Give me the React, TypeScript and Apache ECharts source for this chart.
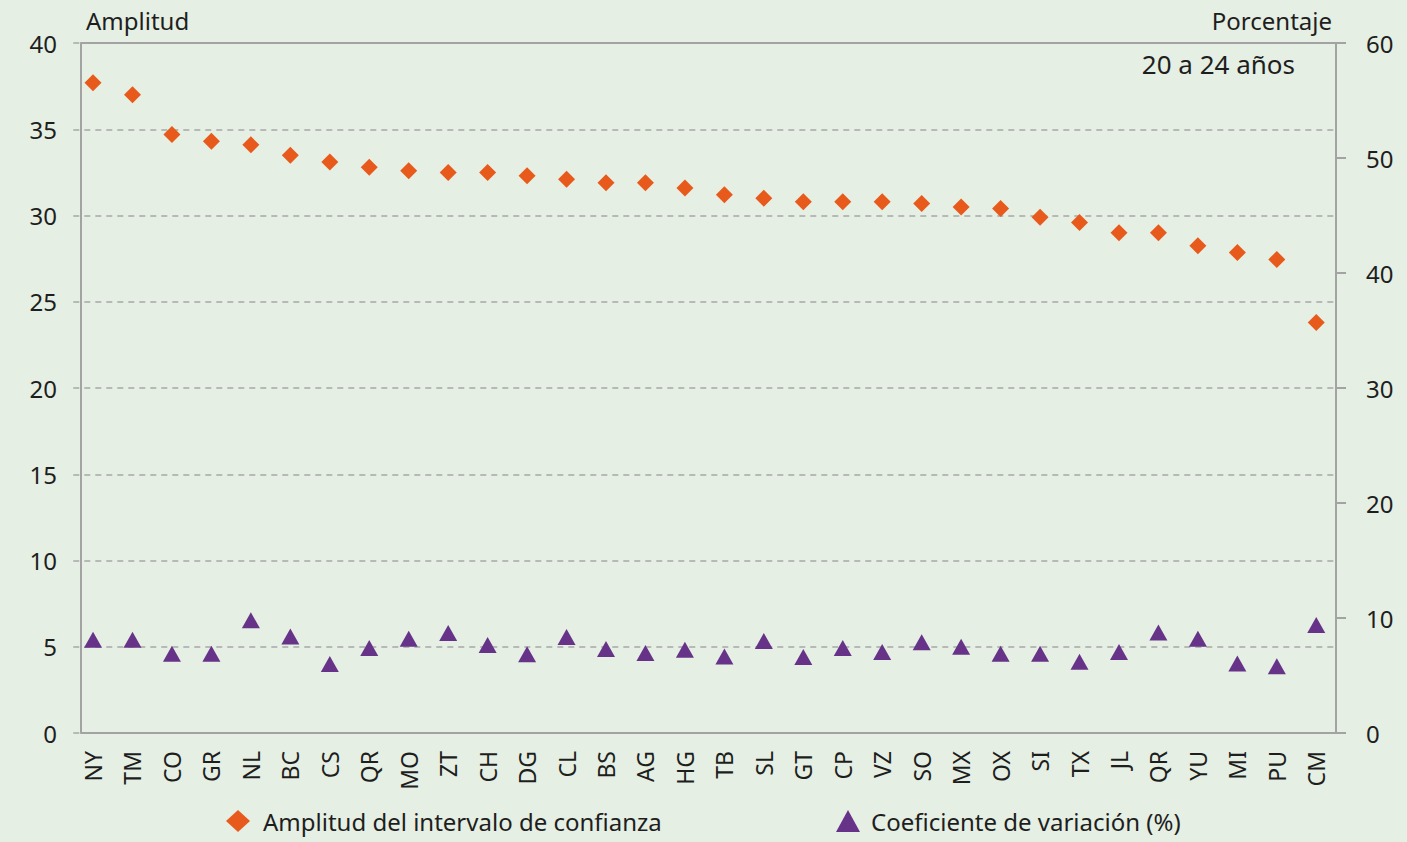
import React, { useEffect, useRef } from "react";
import * as echarts from "echarts";

const categories = ["NY","TM","CO","GR","NL","BC","CS","QR","MO","ZT","CH","DG","CL","BS","AG","HG","TB","SL","GT","CP","VZ","SO","MX","OX","SI","TX","JL","QR","YU","MI","PU","CM"];
const amplitud = [37.7,37.0,34.7,34.3,34.1,33.5,33.1,32.8,32.6,32.5,32.5,32.3,32.1,31.9,31.9,31.6,31.2,31.0,30.8,30.8,30.8,30.7,30.5,30.4,29.9,29.6,29.0,29.0,28.25,27.85,27.45,23.8];
const coefVar = [8.1,8.1,6.9,6.9,9.8,8.4,6.0,7.4,8.2,8.7,7.65,6.85,8.35,7.3,6.95,7.25,6.65,8.0,6.6,7.4,7.05,7.9,7.5,6.9,6.9,6.2,7.05,8.75,8.2,6.05,5.8,9.4];
const leftTicks = { min: 0, max: 40, interval: 5 };
const rightTicks = { min: 0, max: 60, interval: 10 };

const FONT = "'Noto Sans', 'Open Sans', sans-serif";
const TEXT = "#1e1e1e";
const AXIS = "#a3a3a3";
const ORANGE = "#e85a1c";
const PURPLE = "#663389";

export default function App() {
  const ref = useRef<HTMLDivElement>(null);
  useEffect(() => {
    document.body.style.margin = "0";
    const chart = echarts.init(ref.current!, null, { renderer: "svg" });
    chart.setOption({
      animation: false,
      backgroundColor: "#e5efe3",
      textStyle: { fontFamily: FONT },
      grid: { left: 73.3, right: 71, top: 43, bottom: 109, containLabel: false },
      xAxis: {
        type: "category",
        data: categories,
        boundaryGap: true,
        axisLine: { show: false },
        axisTick: { show: false },
        axisLabel: { rotate: 90, margin: 18, color: TEXT, fontSize: 23, fontFamily: FONT, interval: 0 },
      },
      yAxis: [
        {
          type: "value",
          position: "left",
          offset: -7.7,
          ...leftTicks,
          axisLine: { show: true, lineStyle: { color: AXIS, width: 2 } },
          axisTick: { show: false },
          axisLabel: { margin: 24, color: TEXT, fontSize: 24, fontFamily: FONT },
          splitLine: { show: true, lineStyle: { color: "#a8a8a8", width: 1.5, type: [6, 5] } },
        },
        {
          type: "value",
          position: "right",
          ...rightTicks,
          axisLine: { show: true, lineStyle: { color: AXIS, width: 2 } },
          axisTick: { show: true, inside: false, length: 10, lineStyle: { color: AXIS, width: 2 } },
          axisLabel: { margin: 30, color: TEXT, fontSize: 24, fontFamily: FONT },
          splitLine: { show: false },
        },
      ],
      legend: [
        {
          left: 221,
          top: 804,
          itemWidth: 24,
          itemHeight: 22,
          textStyle: { color: TEXT, fontSize: 24, fontFamily: FONT, padding: [0, 0, 0, 8] },
          data: [{ name: "Amplitud del intervalo de confianza", icon: "diamond" }],
        },
        {
          left: 831,
          top: 804,
          itemWidth: 24,
          itemHeight: 22,
          textStyle: { color: TEXT, fontSize: 24, fontFamily: FONT, padding: [0, 0, 0, 6] },
          data: [{ name: "Coeficiente de variación (%)", icon: "triangle" }],
        },
      ],
      graphic: [
        { type: "line", shape: { x1: 81, y1: 43, x2: 1336, y2: 43 }, style: { stroke: AXIS, lineWidth: 2 }, z: 5 },
        { type: "line", shape: { x1: 81, y1: 733, x2: 1346, y2: 733 }, style: { stroke: AXIS, lineWidth: 2 }, z: 5 },
        { type: "text", left: 86, top: 8, style: { text: "Amplitud", fill: TEXT, fontSize: 24, fontFamily: FONT } },
        { type: "text", right: 75, top: 8, style: { text: "Porcentaje", fill: TEXT, fontSize: 24, fontFamily: FONT } },
        { type: "text", right: 112, top: 51, style: { text: "20 a 24 años", fill: TEXT, fontSize: 26, fontFamily: FONT } },
      ],
      series: [
        {
          name: "Amplitud del intervalo de confianza",
          type: "scatter",
          yAxisIndex: 0,
          symbol: "diamond",
          symbolSize: [17, 17],
          itemStyle: { color: ORANGE, opacity: 1 },
          data: amplitud,
        },
        {
          name: "Coeficiente de variación (%)",
          type: "scatter",
          yAxisIndex: 1,
          symbol: "triangle",
          symbolSize: [18, 16],
          itemStyle: { color: PURPLE, opacity: 1 },
          data: coefVar,
        },
      ],
    });
    return () => chart.dispose();
  }, []);
  return <div ref={ref} style={{ width: 1407, height: 842 }} />;
}
